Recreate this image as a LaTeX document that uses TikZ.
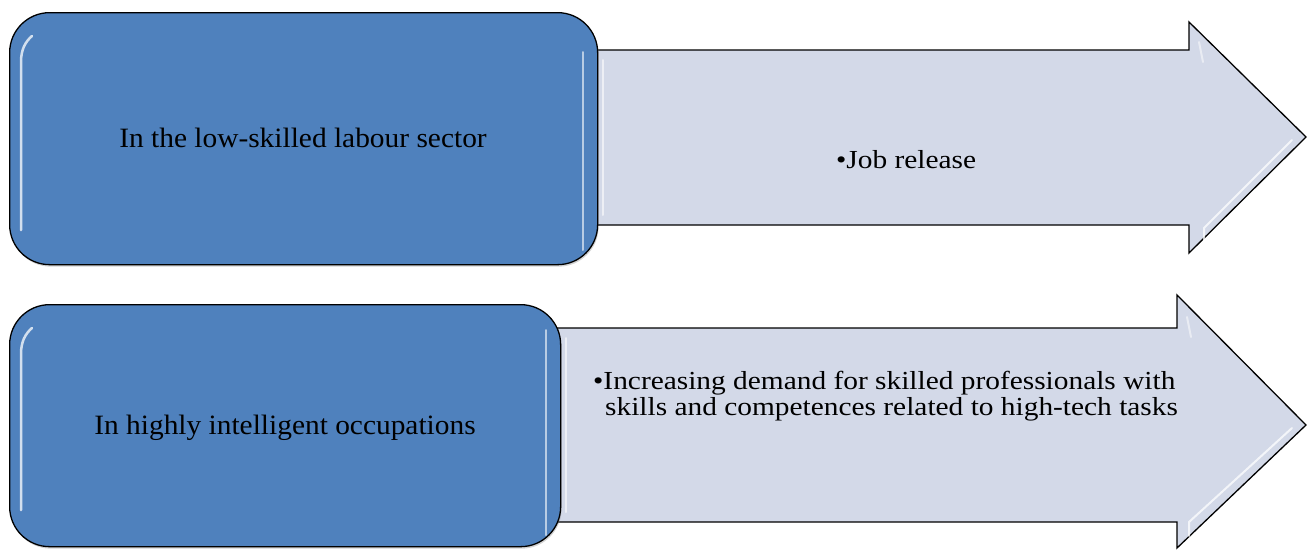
\documentclass[tikz,border=0pt]{standalone}
\usepackage{fontspec}
\setmainfont{Liberation Serif}
\usetikzlibrary{shadows}
\definecolor{boxblue}{HTML}{4F81BD}
\definecolor{arrowfill}{HTML}{D3D9E8}
\begin{document}
\begin{tikzpicture}[x=1pt,y=-1pt,
  bluebox/.style={draw=black,line width=1.3pt,fill=boxblue,rounded corners=40pt,
     drop shadow={shadow xshift=1pt,shadow yshift=-2pt,opacity=0.35}},
  arrowshape/.style={draw=black,line width=1.3pt,fill=arrowfill,line join=miter},
  hilite/.style={white,line width=2pt,opacity=0.75,line cap=round},
  boxtxt/.style={font=\fontsize{28}{30}\selectfont,text=black,inner sep=0pt,anchor=base},
  arrtxt/.style={font=\fontsize{26}{26}\selectfont,text=black,inner sep=0pt,anchor=base west}]
\useasboundingbox (0,0) rectangle (1309,552);
% top arrow
\draw[arrowshape] (590,50) -- (1189,50) -- (1189,22) -- (1306,137) -- (1189,253) -- (1189,225) -- (590,225) -- cycle;
\draw[hilite,opacity=0.5] (1199,42) -- (1203,62);
\draw[hilite] (1292,140) -- (1204,228) -- (1204,242);
\draw[hilite,opacity=0.6] (603,60) -- (603,215);
% bottom arrow
\draw[arrowshape] (550,328) -- (1177,328) -- (1177,295) -- (1306,425) -- (1177,548) -- (1177,522) -- (550,522) -- cycle;
\draw[hilite,opacity=0.5] (1187,317) -- (1191,337);
\draw[hilite] (1292,428) -- (1189,522) -- (1189,536);
\draw[hilite,opacity=0.6] (566,338) -- (566,512);
% boxes
\node[bluebox,minimum width=588pt,minimum height=252pt,anchor=north west] (low) at (9,12) {};
\node[bluebox,minimum width=551pt,minimum height=242pt,anchor=north west] (high) at (9,304) {};
\draw[hilite,line width=2.5pt] (21,230) -- (21,62) .. controls (21,50) and (25,42) .. (32,36);
\draw[hilite,line width=2pt,opacity=0.6] (583,52) -- (583,250);
\draw[hilite,line width=2.5pt] (21,510) -- (21,354) .. controls (21,342) and (25,334) .. (32,328);
\draw[hilite,line width=2pt,opacity=0.6] (546,330) -- (546,535);
% texts
\node[boxtxt] (lowtxt) at (303,147) {\scalebox{1.05}[1]{In the low-skilled labour sector}};
\node[boxtxt] (hightxt) at (285,434) {\scalebox{1.05}[1]{In highly intelligent occupations}};
\node[arrtxt] (jobtxt) at (836,168) {\scalebox{1.13}[1]{\textbullet Job release}};
\node[arrtxt] (demtxt1) at (593,389) {\scalebox{1.13}[1]{\textbullet Increasing demand for skilled professionals with}};
\node[arrtxt] (demtxt2) at (605,415) {\scalebox{1.13}[1]{skills and competences related to high-tech tasks}};
\end{tikzpicture}
\end{document}
